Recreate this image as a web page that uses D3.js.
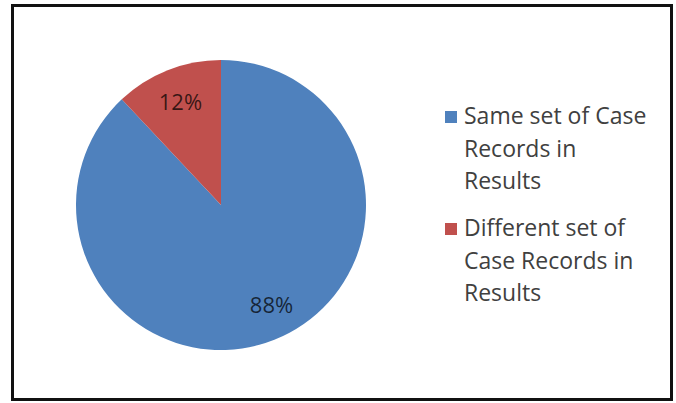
<!DOCTYPE html>
<html lang="en"><head><meta charset="UTF-8">
<title>Case records pie</title>
<script src="https://cdn.jsdelivr.net/npm/d3@7"></script>
<style type="text/css">
  body { margin: 0; background: #fff; }
  text { font-family: "Open Sans", "Noto Sans", sans-serif; }
</style>
</head>
<body>
<script type="text/javascript">

  // data
  var categories = ["Same set of Case Records in Results", "Different set of Case Records in Results"];
  var values = [88, 12];
  var valueLabels = ["88%", "12%"];
  var legendLines = [["Same set of Case", "Records in", "Results"], ["Different set of", "Case Records in", "Results"]];
  var colors = ["#4F81BD", "#C0504D"];

  //Width and height
  var w = 676;
  var h = 403;

  var svg = d3.select("body")
        .append("svg")
        .attr("width", w)
        .attr("height", h);

  // frame
  svg.append("rect")
     .attr("x", 12.5).attr("y", 5.5)
     .attr("width", 659).attr("height", 394)
     .attr("fill", "#fff")
     .attr("stroke", "#111")
     .attr("stroke-width", 3);

  var cx = 221, cy = 205, r = 145;

  // clockwise from 12 o'clock, red slice ends back at the top
  var pie = d3.pie()
    .sort(null)
    .value(function(d) { return d; });

  var arcs = pie(values);
  var arc = d3.arc().innerRadius(0).outerRadius(r);

  var g = svg.append("g").attr("transform", "translate(" + cx + "," + cy + ")");

  g.selectAll("path")
   .data(arcs)
   .enter()
   .append("path")
   .attr("d", arc)
   .attr("fill", function(d, i) { return colors[i]; });

  // label distance from centre, as a share of the radius (Excel best fit)
  var labelPos = [0.74, 0.76];

  g.selectAll("text.lbl")
   .data(arcs)
   .enter()
   .append("text")
   .attr("class", "lbl")
   .attr("transform", function(d, i) {
     var la = d3.arc().innerRadius(r * labelPos[i]).outerRadius(r * labelPos[i]);
     var c = la.centroid(d);
     if (i === 0) c[0] += 11;
     return "translate(" + c + ")";
   })
   .attr("text-anchor", "middle")
   .attr("dy", "0.36em")
   .attr("font-size", 22)
   .attr("fill", "#000")
   .attr("fill-opacity", 0.72)
   .text(function(d, i) { return valueLabels[i]; });

  // legend
  var legend = svg.append("g").attr("transform", "translate(445,0)");
  var entryTop = [124, 236];
  var lineH = 32.5;

  legendLines.forEach(function(lines, i) {
    legend.append("rect")
      .attr("x", 0).attr("y", entryTop[i] - 13)
      .attr("width", 12).attr("height", 12)
      .attr("fill", colors[i]);
    var t = legend.append("text")
      .attr("x", 19).attr("y", entryTop[i])
      .attr("font-size", 23)
      .attr("fill", "#404040");
    lines.forEach(function(s, k) {
      t.append("tspan").attr("x", 19).attr("y", entryTop[i] + k * lineH).text(s);
    });
  });
</script>
</body></html>
